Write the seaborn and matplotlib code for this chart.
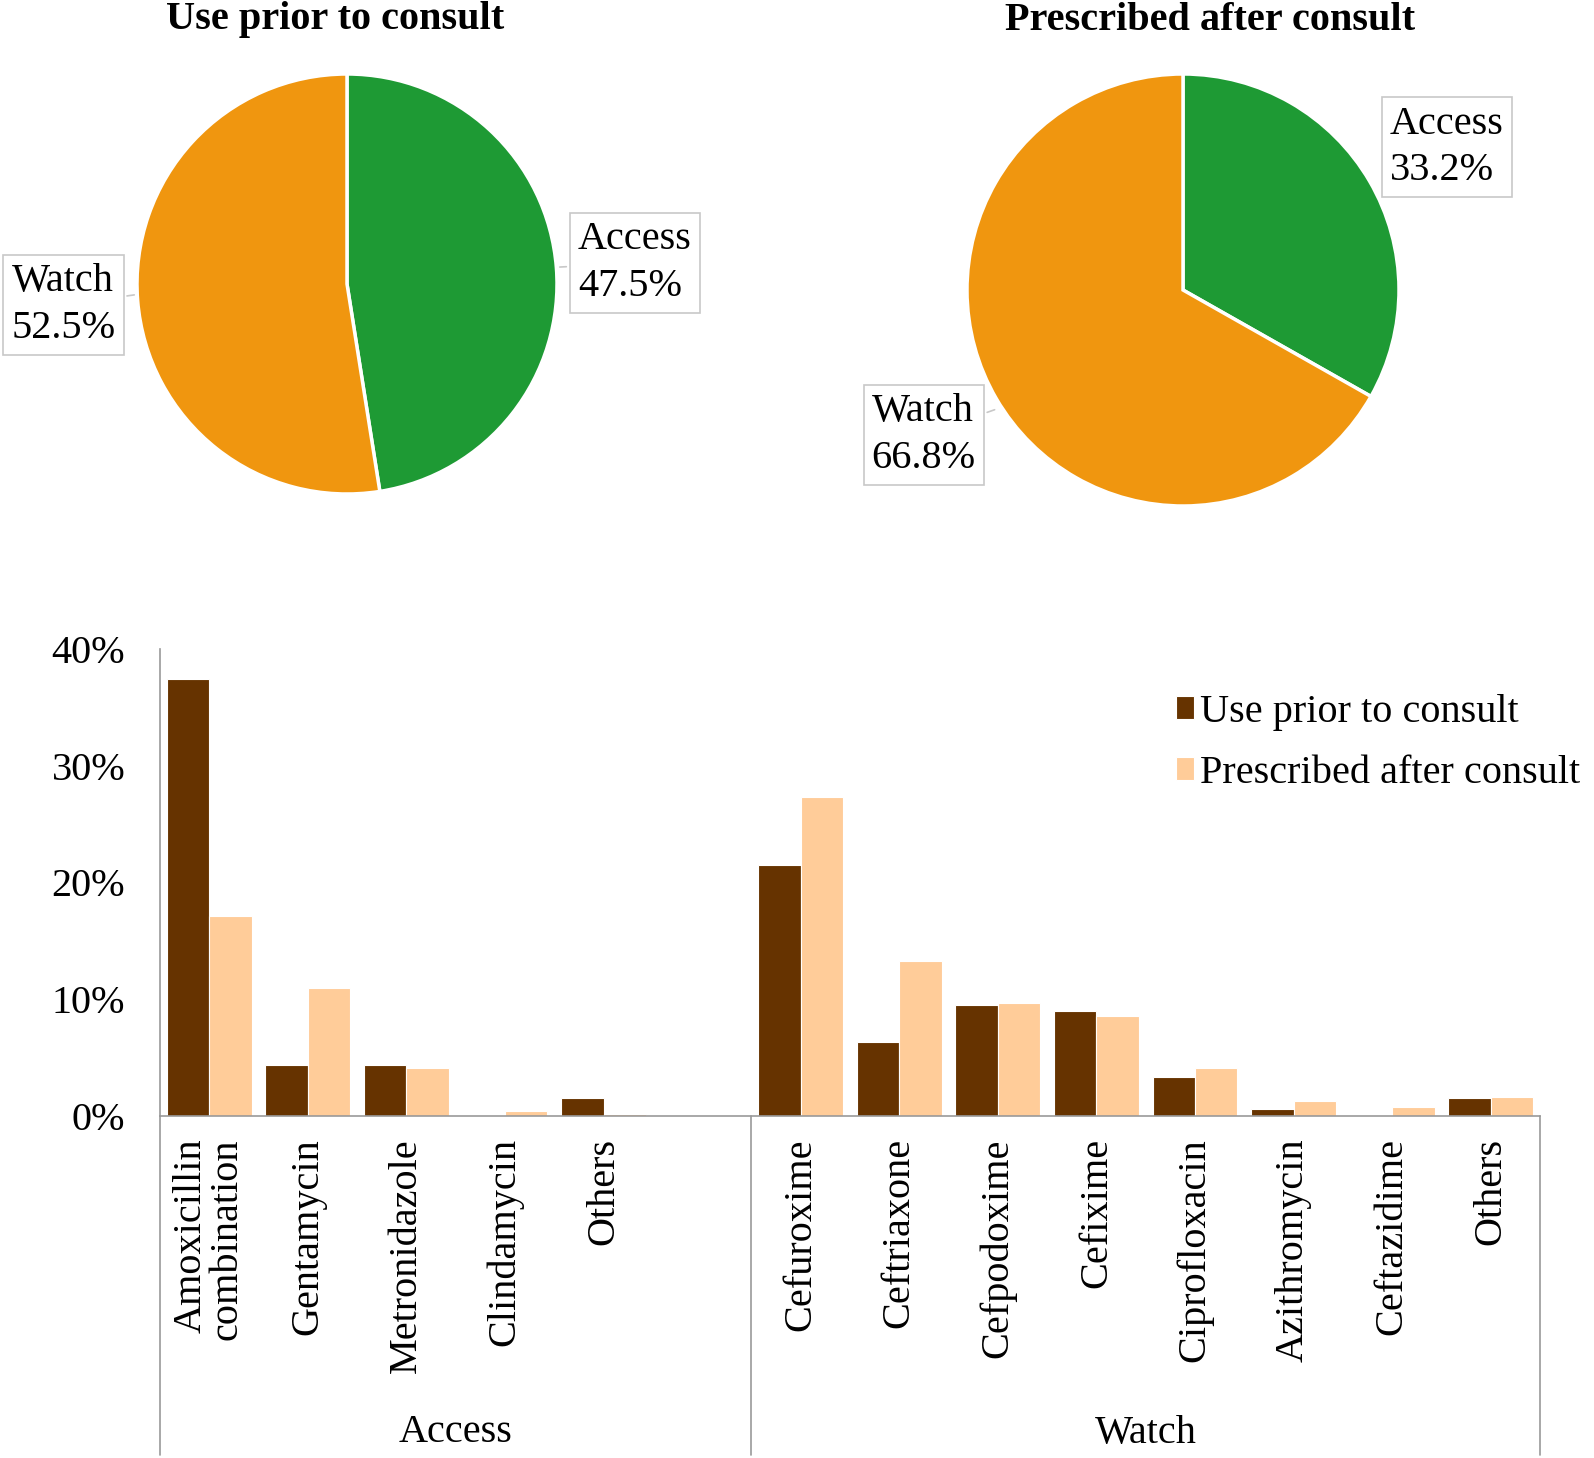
import pandas as pd
import matplotlib
matplotlib.use("Agg")
import matplotlib.pyplot as plt
import matplotlib.transforms as mtransforms
import seaborn as sns

# pie data
pie_labels = ["Access", "Watch"]
pie_prior = [47.5, 52.5]
pie_after = [33.2, 66.8]
pie_colors = ["#1e9a34", "#f0960f"]

# bar data (percent), empty slot between the two groups
groups = ["Access", "Watch"]
access_drugs = ["Amoxicillin\ncombination", "Gentamycin", "Metronidazole", "Clindamycin", "Others"]
access_prior = [37.4, 4.35, 4.35, 0.0, 1.5]
access_after = [17.1, 11.0, 4.1, 0.45, 0.2]
watch_drugs = ["Cefuroxime", "Ceftriaxone", "Cefpodoxime", "Cefixime", "Ciprofloxacin",
               "Azithromycin", "Ceftazidime", "Others"]
watch_prior = [21.5, 6.35, 9.5, 9.0, 3.3, 0.6, 0.0, 1.5]
watch_after = [27.3, 13.3, 9.65, 8.6, 4.1, 1.3, 0.8, 1.6]
series = ["Use prior to consult", "Prescribed after consult"]
bar_colors = ["#663300", "#ffcc99"]

sns.set_theme(style="white")
plt.rcParams["font.family"] = ["Liberation Serif", "DejaVu Serif"]
plt.rcParams["text.color"] = "black"
FS = 29

W, H = 1594, 1458
fig = plt.figure(figsize=(W / 100, H / 100), dpi=100)


def pie_axes(cx, cy, r):
    return fig.add_axes([(cx - r) / W, 1 - (cy + r) / H, 2 * r / W, 2 * r / H])


def draw_pie(ax, vals, boxes, title, tx):
    ax.pie(vals, colors=pie_colors, startangle=90, counterclock=False,
           wedgeprops=dict(edgecolor="white", linewidth=2.5))
    ax.set_aspect("equal")
    ax.set_xlim(-1, 1)
    ax.set_ylim(-1, 1)
    for lab, v, (bx, by), (px, py) in zip(pie_labels, vals, boxes[0], boxes[1]):
        ax.annotate(f"{lab}\n{v}%", xy=(px, py), xytext=(bx, by), fontsize=FS,
                    ha="center", va="center", multialignment="left", linespacing=1.35,
                    bbox=dict(boxstyle="square,pad=0.2", fc="white", ec="#c8c8c8", lw=1.2),
                    arrowprops=dict(arrowstyle="-", color="#c8c8c8", lw=1.2))
    fig.text(tx / W, 1 - 20 / H, title, fontsize=FS, fontweight="bold",
             ha="center", va="center")


ax1 = pie_axes(347, 284, 210)
draw_pie(ax1, pie_prior,
         [[(1.37, 0.10), (-1.35, -0.10)], [(1.0, 0.08), (-1.0, -0.05)]],
         "Use prior to consult", 335)
ax2 = pie_axes(1183, 290, 216)
draw_pie(ax2, pie_after,
         [[(1.22, 0.66), (-1.20, -0.67)], [(0.93, 0.50), (-0.86, -0.55)]],
         "Prescribed after consult", 1210)

# bar chart
keys_a = [f"A_{d}" for d in access_drugs]
keys_w = [f"W_{d}" for d in watch_drugs]
order = keys_a + ["gap"] + keys_w
rows = []
for k, p, a in zip(keys_a + keys_w, access_prior + watch_prior, access_after + watch_after):
    rows.append((k, series[0], p))
    rows.append((k, series[1], a))
df = pd.DataFrame(rows, columns=["drug", "series", "value"])

ax = fig.add_axes([160 / W, 1 - 1116 / H, 1380 / W, 467 / H])
sns.barplot(data=df, x="drug", y="value", hue="series", order=order, hue_order=series,
            palette=bar_colors, saturation=1, width=0.86, ax=ax, edgecolor="white", linewidth=0.8)
ax.set_xlim(-0.5, len(order) - 0.5)
ax.set_ylim(0, 40)
ax.set_yticks([0, 10, 20, 30, 40])
ax.set_yticklabels([f"{v}%" for v in [0, 10, 20, 30, 40]], fontsize=FS)
ax.set_xticks(range(len(order)))
ax.set_xticklabels(access_drugs + [""] + watch_drugs, rotation=90, fontsize=FS,
                   va="top", ha="center", multialignment="right", linespacing=0.95)
ax.tick_params(axis="both", length=0, colors="black")
ax.tick_params(axis="y", pad=25)
ax.tick_params(axis="x", pad=16)
ax.set_xlabel("")
ax.set_ylabel("")
for s in ["top", "right"]:
    ax.spines[s].set_visible(False)
for s in ["left", "bottom"]:
    ax.spines[s].set_color("#999999")
    ax.spines[s].set_linewidth(1.2)

# group separators and group labels below the axis
trans = mtransforms.blended_transform_factory(ax.transData, fig.transFigure)
y0 = ax.get_position().y0
for xs in [-0.5, len(access_drugs) + 0.5, len(order) - 0.5]:
    ax.plot([xs, xs], [y0, 0.002], color="#999999", lw=1.2, transform=trans, clip_on=False)
ax.text((len(access_drugs)) / 2, 1 - 1433 / H, groups[0], transform=trans,
        fontsize=FS, ha="center", va="center")
ax.text(len(access_drugs) + 1 + (len(watch_drugs) - 1) / 2, 1 - 1433 / H, groups[1],
        transform=trans, fontsize=FS, ha="center", va="center")

handles, labels = ax.get_legend_handles_labels()
ax.legend(handles, labels, loc="upper left", bbox_to_anchor=(1176 / W, 1 - 694 / H),
          bbox_transform=fig.transFigure, frameon=False, fontsize=FS,
          handlelength=0.45, handleheight=0.5, handletextpad=0.15,
          labelspacing=0.6, borderpad=0, borderaxespad=0)

fig.savefig("out.png", dpi=100)
